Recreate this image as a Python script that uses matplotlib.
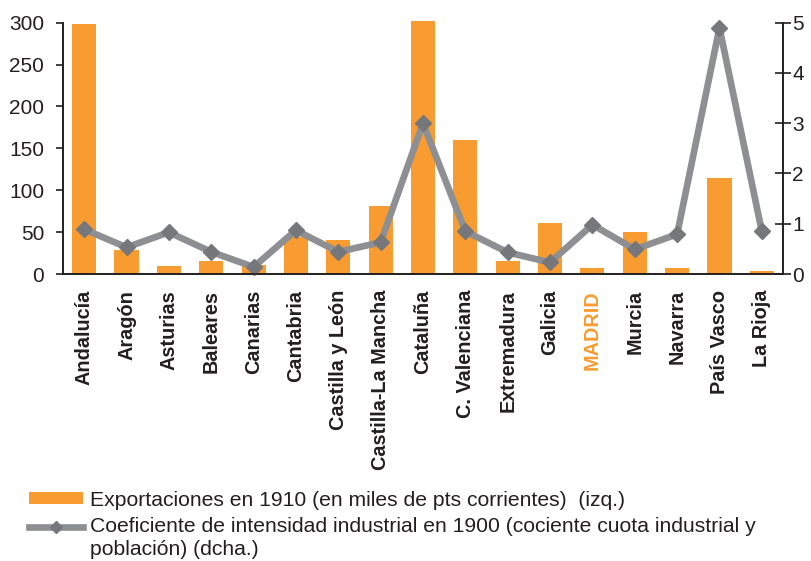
import matplotlib
matplotlib.use('Agg')
import matplotlib.pyplot as plt
from matplotlib.patches import Patch
from matplotlib.lines import Line2D
from matplotlib.legend_handler import HandlerLine2D

plt.rcParams['font.family'] = ['Liberation Sans', 'DejaVu Sans']

regiones = ['Andalucía', 'Aragón', 'Asturias', 'Baleares', 'Canarias', 'Cantabria',
            'Castilla y León', 'Castilla-La Mancha', 'Cataluña', 'C. Valenciana',
            'Extremadura', 'Galicia', 'MADRID', 'Murcia', 'Navarra', 'País Vasco',
            'La Rioja']
exportaciones = [298, 29, 9, 15, 11, 44, 41, 81, 302, 160, 15, 61, 7, 50, 7, 115, 3]
coeficiente = [0.89, 0.53, 0.83, 0.44, 0.14, 0.87, 0.44, 0.63, 3.0, 0.85, 0.43, 0.23,
               0.98, 0.49, 0.79, 4.9, 0.85]

naranja = '#f89c31'
gris = '#8e8f92'
gris_osc = '#76777a'
texto = '#231f20'


# handle of the line entry sits on the first text line, not centred on both
class HandlerArriba(HandlerLine2D):
    def create_artists(self, legend, orig_handle, xdescent, ydescent,
                       width, height, fontsize, trans):
        return super().create_artists(legend, orig_handle, xdescent, ydescent - 17,
                                      width, height, fontsize, trans)


fig = plt.figure(figsize=(8.11, 5.61), dpi=100)
ax = fig.add_axes([63 / 811, 1 - 274 / 561, (783 - 63) / 811, (274 - 22.7) / 561])
ax2 = ax.twinx()

x = range(len(regiones))
barras = ax.bar(x, exportaciones, width=0.57, color=naranja, zorder=2)
for b in barras:
    b.set_clip_on(False)
ax2.plot(x, coeficiente, color=gris, lw=4.8, marker='D', ms=8,
         mfc=gris_osc, mec=gris_osc, solid_joinstyle='bevel', clip_on=False)

ax.set_xlim(-0.5, len(regiones) - 0.5)
ax.set_ylim(0, 300)
ax.set_yticks([0, 50, 100, 150, 200, 250, 300])
ax2.set_ylim(0, 5)
ax2.set_yticks([0, 1, 2, 3, 4, 5])

for a in (ax, ax2):
    a.spines['top'].set_visible(False)
    for s in a.spines.values():
        s.set_color(texto)
        s.set_linewidth(1.2)

ax.set_xticks(list(x))
ax.set_xticklabels(regiones, rotation=90, fontsize=14.3, fontweight='bold', color=texto)
ax.tick_params(axis='x', length=0, pad=11.5)
ax.tick_params(axis='y', length=5, width=1.2, color=texto, labelsize=15,
               labelcolor=texto, pad=8.5)
ax2.tick_params(axis='y', direction='inout', length=11, width=1.2, color=texto,
                labelsize=15, labelcolor=texto, pad=1)
ax.get_xticklabels()[12].set_color(naranja)

linea_leg = Line2D([], [], color=gris, lw=4.8, marker='D', ms=6,
                   mfc=gris_osc, mec=gris_osc)
handles = [Patch(facecolor=naranja, edgecolor='none'), linea_leg]
etiquetas = ['Exportaciones en 1910 (en miles de pts corrientes)  (izq.)',
             'Coeficiente de intensidad industrial en 1900 (cociente cuota industrial y\npoblación) (dcha.)']
leg = fig.legend(handles, etiquetas, loc='upper left', bbox_to_anchor=(18 / 811, 1 - 480 / 561),
                 frameon=False, fontsize=15.2, handlelength=2.6, handleheight=0.55,
                 handletextpad=0.3, labelspacing=0.35, borderpad=0, labelcolor=texto,
                 handler_map={linea_leg: HandlerArriba()})
for t in leg.get_texts():
    t.set_linespacing(1.3)

fig.savefig('out.png', dpi=100)
